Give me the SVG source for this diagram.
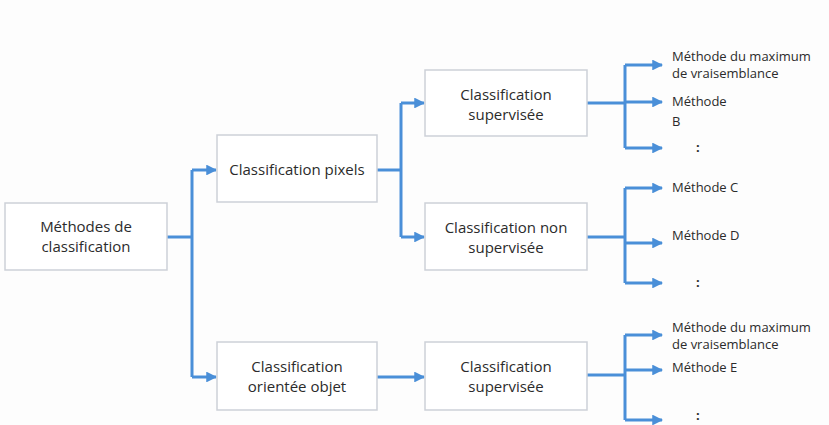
<svg xmlns="http://www.w3.org/2000/svg" width="829" height="425" viewBox="0 0 829 425">
<style>
.box{fill:#ffffff;stroke:#cdd1d8;stroke-width:1.5}
.t{font-family:"Open Sans","Noto Sans",sans-serif;font-size:15px;fill:#2b2b2b;text-anchor:middle}
.s{font-family:"Open Sans","Noto Sans",sans-serif;font-size:13px;fill:#2b2b2b}
.c{fill:none;stroke:#4a8fd8;stroke-width:3}
</style>
<defs>
<marker id="ah" viewBox="0 0 10 10" refX="9" refY="5" markerWidth="3.8" markerHeight="3.6" orient="auto" markerUnits="strokeWidth">
<path d="M0,0 L10,5 L0,10 z" fill="#4a8fd8"/>
</marker>
</defs>
<rect width="829" height="425" fill="#fdfdfd"/>
<g id="connectors">
<path class="c" d="M167,237 H192"/>
<path class="c" d="M192,170 V377"/>
<path class="c" d="M192,170 H216" marker-end="url(#ah)"/>
<path class="c" d="M192,377 H216" marker-end="url(#ah)"/>
<path class="c" d="M377,170 H401"/>
<path class="c" d="M401,103 V237"/>
<path class="c" d="M401,103 H424" marker-end="url(#ah)"/>
<path class="c" d="M401,237 H424" marker-end="url(#ah)"/>
<path class="c" d="M377,377 H424" marker-end="url(#ah)"/>
<path class="c" d="M587,103 H625"/>
<path class="c" d="M625,65 V148"/>
<path class="c" d="M625,65 H662" marker-end="url(#ah)"/>
<path class="c" d="M625,102 H662" marker-end="url(#ah)"/>
<path class="c" d="M625,148 H662" marker-end="url(#ah)"/>
<path class="c" d="M587,237 H625"/>
<path class="c" d="M625,188 V283"/>
<path class="c" d="M625,188 H662" marker-end="url(#ah)"/>
<path class="c" d="M625,243 H662" marker-end="url(#ah)"/>
<path class="c" d="M625,283 H662" marker-end="url(#ah)"/>
<path class="c" d="M587,375 H625"/>
<path class="c" d="M625,335 V420"/>
<path class="c" d="M625,335 H662" marker-end="url(#ah)"/>
<path class="c" d="M625,370 H662" marker-end="url(#ah)"/>
<path class="c" d="M625,420 H662" marker-end="url(#ah)"/>
</g>
<g id="n-methodes">
<rect class="box" x="5" y="203" width="162" height="67"/>
<text class="t" x="86" y="232">Méthodes de</text>
<text class="t" x="86" y="252">classification</text>
</g>
<g id="n-pixels">
<rect class="box" x="217" y="135" width="160" height="67"/>
<text class="t" x="297" y="175">Classification pixels</text>
</g>
<g id="n-objet">
<rect class="box" x="217" y="342" width="160" height="68"/>
<text class="t" x="297" y="372">Classification</text>
<text class="t" x="297" y="392">orientée objet</text>
</g>
<g id="n-sup1">
<rect class="box" x="425" y="70" width="162" height="66"/>
<text class="t" x="506" y="100">Classification</text>
<text class="t" x="506" y="120">supervisée</text>
</g>
<g id="n-nonsup">
<rect class="box" x="425" y="203" width="162" height="67"/>
<text class="t" x="506" y="233">Classification non</text>
<text class="t" x="506" y="253">supervisée</text>
</g>
<g id="n-sup2">
<rect class="box" x="425" y="342" width="162" height="68"/>
<text class="t" x="506" y="372">Classification</text>
<text class="t" x="506" y="392">supervisée</text>
</g>
<g id="l-top">
<text class="s" x="672" y="61">Méthode du maximum</text>
<text class="s" x="672" y="78">de vraisemblance</text>
<text class="s" x="672" y="106">Méthode</text>
<text class="s" x="672" y="126">B</text>
<text class="s" x="696" y="152" font-weight="bold">:</text>
</g>
<g id="l-mid">
<text class="s" x="672" y="192">Méthode C</text>
<text class="s" x="672" y="240">Méthode D</text>
<text class="s" x="696" y="287" font-weight="bold">:</text>
</g>
<g id="l-bot">
<text class="s" x="672" y="332">Méthode du maximum</text>
<text class="s" x="672" y="349">de vraisemblance</text>
<text class="s" x="672" y="372">Méthode E</text>
<text class="s" x="696" y="420" font-weight="bold">:</text>
</g>
</svg>
